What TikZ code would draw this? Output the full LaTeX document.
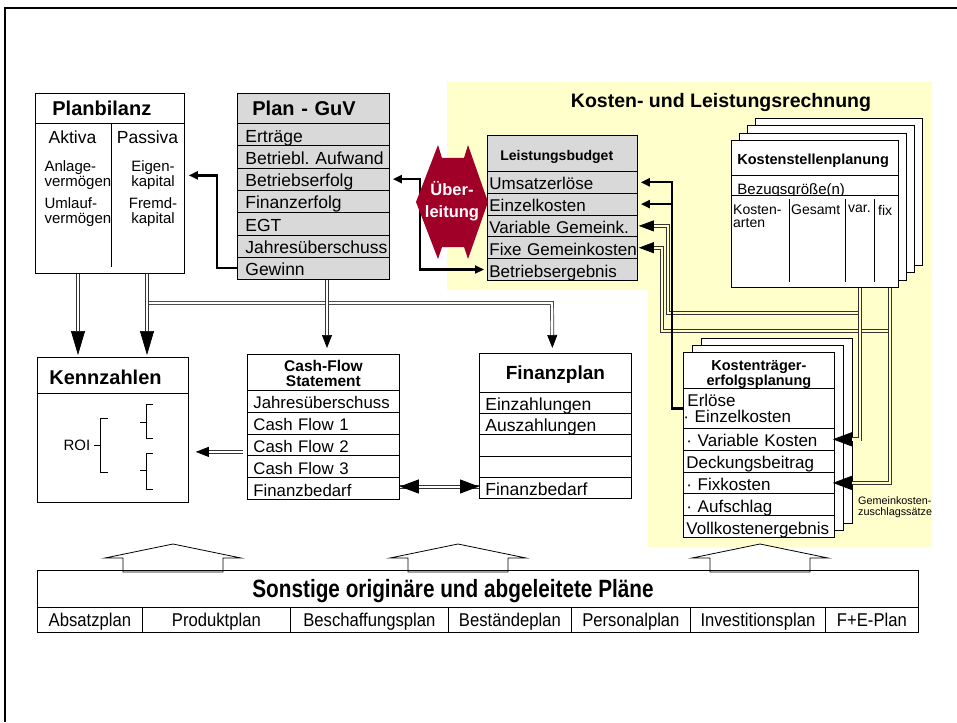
\documentclass[tikz,border=0pt]{standalone}
\usepackage{fontspec}
\setmainfont{Liberation Sans}
\newfontfamily\condfont{Liberation Sans}[FakeStretch=0.9]
\newfontfamily\condtitle{Liberation Sans}[FakeStretch=0.83]
\usetikzlibrary{arrows.meta,calc}
\definecolor{klryellow}{RGB}{255,255,204}
\definecolor{guvgray}{RGB}{217,217,217}
\definecolor{uebred}{RGB}{160,0,40}
\newcommand\fsz[1]{\fontsize{#1}{#1}\selectfont}
\frenchspacing
\tikzset{
  cell/.style={draw, line width=0.8pt, anchor=north west, inner sep=0pt,
    text height=14pt, text depth=0pt, align=left},
  inset/.style={execute at begin node={\hspace*{#1pt}}},
  sheet/.style={draw, line width=0.8pt, fill=white, anchor=north west, inner sep=0pt},
  blkTip/.tip={Triangle[length=9pt,width=8pt,color=black]},
  kzTip/.tip={Triangle[length=24pt,width=14pt,color=black]},
  bigTip/.tip={Triangle[length=19pt,width=14pt,color=black]},
  lbTip/.tip={Triangle[length=15pt,width=11pt,color=black]},
  midTip/.tip={Triangle[length=13pt,width=10pt,color=black]},
  blk/.style={line width=2.2pt, -{blkTip}},
  dblW/.style={draw=black!80, line width=0.7pt, double=white, double distance=2.4pt},
  dblY/.style={draw=black!80, line width=0.7pt, double=klryellow, double distance=2.4pt}
}
\begin{document}
\frenchspacing
\begin{tikzpicture}[x=1pt, y=-1pt]
\useasboundingbox (0,0) rectangle (957,722);
\draw[line width=1.8pt] (957,8) -- (5,8) -- (5,722);

% Kosten- und Leistungsrechnung
\fill[klryellow] (447,82) -- (932,82) -- (932,547) -- (648,547) -- (648,290) -- (447,290) -- cycle;
\node[font=\bfseries\fsz{19.5}] (klr) at (721,103) {Kosten- und Leistungsrechnung};

% Planbilanz
\node[cell, text width=149, minimum height=30, inset=17, text height=15pt, font=\bfseries\fsz{20}] (pbT) at (35,93) {Planbilanz};
\node[cell, text width=149, minimum height=150] (pb) at (35,123) {};
\draw[line width=0.8pt] (pb.north west) ++(76,0) -- ++(0,144);
\node[font=\fsz{17.5}] (pbA) at (72.5,137) {Aktiva};
\node[font=\fsz{17.5}] (pbP) at (147.5,137) {Passiva};
\node[anchor=west, align=left, font=\fontsize{15}{14.5}\selectfont] (pbAV) at (41,175) {Anlage-\\vermögen};
\node[anchor=west, align=left, font=\fontsize{15}{14.5}\selectfont] (pbUV) at (41,212) {Umlauf-\\vermögen};
\node[align=center, font=\fontsize{15}{14.5}\selectfont] (pbEK) at (153,175) {Eigen-\\kapital};
\node[align=center, font=\fontsize{15}{14.5}\selectfont] (pbFK) at (153,212) {Fremd-\\kapital};

% Plan - GuV
\node[cell, fill=guvgray, text width=152, minimum height=30, inset=15, text height=15pt, font=\bfseries\fsz{20}] (guvT) at (237,93) {Plan - GuV};
\foreach \t [count=\i] in {Erträge,Betriebl. Aufwand,Betriebserfolg,Finanzerfolg,EGT,Jahresüberschuss,Gewinn}
  \node[cell, fill=guvgray, text width=152, minimum height=22.3, inset=8, text height=15pt, font=\fsz{17.5}] (guv\i) at (237,{123+22.3*(\i-1)}) {\t};

% Leistungsbudget
\node[cell, fill=guvgray, text width=150, minimum height=36, inset=13, font=\bfseries\fsz{14}] (lbT) at (487,135) {Leistungsbudget};
\foreach \t [count=\i] in {Umsatzerlöse,Einzelkosten,Variable Gemeink.,Fixe Gemeinkosten,Betriebsergebnis}
  \node[cell, fill=guvgray, text width=150, minimum height=21.8, inset=2, text height=15pt, font=\fsz{17}] (lb\i) at (487,{171+21.8*(\i-1)}) {\t};

% Kostenstellenplanung
\foreach \d in {3,2,1}
  \node[sheet, minimum width=167, minimum height=147] (ksb\d) at ({731+8*\d},{140-7.3*\d}) {};
\node[cell, fill=white, text width=167, minimum height=35, inset=6, font=\bfseries\fsz{14.5}] (ksT) at (731,140) {Kostenstellenplanung};
\node[cell, fill=white, text width=167, minimum height=20, inset=6, text height=18pt, font=\fsz{15}] (ksB) at (731,175) {Bezugsgröße(n)};
\node[cell, fill=white, text width=167, minimum height=92] (ks) at (731,195) {};
\foreach \cx in {58,114,143}
  \draw[line width=0.8pt] (ks.north west) ++(\cx,4) -- ++(0,83);
\node[anchor=north west, inner sep=2pt, align=left, font=\fontsize{14}{13}\selectfont] (ksK) at (731,203) {Kosten-\\arten};
\node[anchor=north west, inner sep=2pt, font=\fsz{14}] (ksG) at (789,203) {Gesamt};
\node[anchor=north west, inner sep=2pt, font=\fsz{14}] (ksV) at (846,203) {var.};
\node[anchor=north west, inner sep=2pt, font=\fsz{14}] (ksF) at (876,203) {fix};

% Kostentraegererfolgsplanung
\foreach \d in {2,1}
  \node[sheet, minimum width=151, minimum height=185] (ktb\d) at ({683+9*\d},{352-7*\d}) {};
\node[cell, fill=white, text width=151, minimum height=36, align=center, text depth=13pt, font=\bfseries\fontsize{14.5}{13}\selectfont] (ktT) at (683,352) {Kostenträger-\\erfolgsplanung};
\node[cell, fill=white, text width=151, minimum height=40, inset=4, text height=16pt, text depth=20pt, font=\fontsize{17}{16}\selectfont] (kt1) at (683,388) {Erlöse\\· Einzelkosten};
\foreach \t [count=\i from 2] in {· Variable Kosten,Deckungsbeitrag,· Fixkosten,· Aufschlag,Vollkostenergebnis}
  \node[cell, fill=white, text width=151, minimum height=21.8, inset=3, text height=15pt, font=\fsz{17}] (kt\i) at (683,{428+21.8*(\i-2)}) {\t};
\node[anchor=north west, inner sep=2pt, align=left, font=\fontsize{10.8}{11}\selectfont] (gkz) at (856,494) {Gemeinkosten-\\zuschlagssätze};

% Kennzahlen
\node[cell, text width=151, minimum height=36, inset=12, text height=19pt, font=\bfseries\fsz{20}] (kzT) at (37,357) {Kennzahlen};
\node[cell, text width=151, minimum height=109] (kz) at (37,393) {};
\node[font=\fsz{15}] (roi) at (77,445) {ROI};
\draw[line width=0.8pt] (roi.east) -- (100,445) (108,418) -- (100,418) -- (100,472) -- (108,472);
\draw[line width=0.8pt] (140,422) -- (146,422) (153,404) -- (146,404) -- (146,438) -- (153,438);
\draw[line width=0.8pt] (140,470) -- (146,470) (153,453) -- (146,453) -- (146,489) -- (153,489);

% Cash-Flow Statement
\node[cell, text width=152, minimum height=36, align=center, text height=13pt, text depth=14.5pt, font=\bfseries\fontsize{15.5}{14.5}\selectfont] (cfT) at (247,354) {Cash-Flow\\Statement};
\foreach \t [count=\i] in {Jahresüberschuss,Cash Flow 1,Cash Flow 2,Cash Flow 3,Finanzbedarf}
  \node[cell, text width=152, minimum height=21.8, inset=6, text height=15pt, font=\fsz{16.8}] (cf\i) at (247,{390+21.8*(\i-1)}) {\t};

% Finanzplan
\node[cell, text width=152, minimum height=39, align=center, font=\bfseries\fsz{19}] (fpT) at (479,353) {Finanzplan};
\foreach \t [count=\i] in {Einzahlungen,Auszahlungen,{},{},Finanzbedarf}
  \node[cell, text width=152, minimum height=21.2, inset=6, text height=15pt, font=\fsz{17.5}] (fp\i) at (479,{392+21.2*(\i-1)}) {\t};

% Sonstige Plaene
\foreach \cx in {173,458,760}
  \draw[line width=0.8pt, fill=white] ({\cx-50},572) -- ({\cx-50},558) -- ({\cx-68},558) -- (\cx,544)
    -- ({\cx+68},558) -- ({\cx+50},558) -- ({\cx+50},572) -- cycle;
\node[cell, text width=881, minimum height=37] (spT) at (37,570) {};
\node[anchor=base, font=\condtitle\bfseries\fsz{25}] (spText) at (453,597) {Sonstige originäre und abgeleitete Pläne};
\foreach \a/\b/\t [count=\i] in {37/142/Absatzplan,142/290/Produktplan,290/448/Beschaffungsplan,448/571/Beständeplan,571/690/Personalplan,690/825/Investitionsplan,825/918/F+E-Plan}
  \node[cell, text width={\b-\a}, minimum height=25, align=center, font=\condfont\fsz{18.5}] (sp\i) at (\a,607) {\t};

% connectors
\coordinate (jp) at (552,303);
\draw[dblW, -{midTip}, shorten >=5pt] ([xshift=112]pb.south west) |- (jp) -- ([xshift=-3]fpT.north);
\draw[dblW, -{kzTip}, shorten >=2pt] ([xshift=43]pb.south west) -- ([xshift=41]kzT.north west);
\draw[dblW, -{kzTip}, shorten >=2pt] ([xshift=112]pb.south west) -- ([xshift=110]kzT.north west);
\draw[dblW, -{midTip}, shorten >=6pt] ([xshift=90]guv7.south west) -- ([xshift=80]cfT.north west);
\coordinate (cfOut) at ([yshift=-7]cf3.west);
\draw[dblW, -{midTip}, shorten <=4pt] (cfOut) -- ($(kz.east |- cfOut)+(7,0)$);
\coordinate (fbL) at ([yshift=2]cf5.east);
\coordinate (fbR) at (fp5.west |- fbL);
\draw[black!80, line width=0.7pt] ([yshift=1.6]fbL) -- ([yshift=1.6]fbR) ([yshift=-1.6]fbL) -- ([yshift=-1.6]fbR);
\draw[white, line width=1pt, {bigTip}-{bigTip}] (fbL) -- (fbR);

\coordinate (jv) at (668,313);
\coordinate (jf) at (662,331);
\draw[dblY, -{lbTip}] ([xshift=129]ks.south west) |- (jv) |- ([xshift=1]lb3.east);
\draw[dblY, -{lbTip}] ([xshift=159]ks.south west) |- (jf) |- ([xshift=1]lb4.east);
\draw[dblY, -{bigTip}] ([xshift=129]ks.south west) |- ([xshift=-2]kt2.east);
\draw[dblY, -{bigTip}] ([xshift=159]ks.south west) |- ([xshift=-2]kt4.east);

\draw[blk] (kt1.west) -- ++(-11,0) |- ([xshift=3]lb1.east);
\draw[blk] (kt1.west) ++(-11,0) |- ([xshift=3]lb2.east);
\draw[blk] (guv7.west) -- ++(-20,0) |- ([xshift=4,yshift=23]pb.east);
\draw[blk, {blkTip}-{blkTip}] ([xshift=3]guv3.east) -- ++(27,0) |- ([xshift=-3]lb5.west);

% Ueberleitung
\fill[uebred] (416,202) -- (438,145) -- (442,158) -- (464,158) -- (468,145) -- (488,202)
  -- (468,259) -- (464,247) -- (442,247) -- (438,259) -- cycle;
\node[align=center, text=white, font=\bfseries\fontsize{16.5}{22}\selectfont] (ueb) at (452,201) {Über-\\leitung};
\end{tikzpicture}
\end{document}
